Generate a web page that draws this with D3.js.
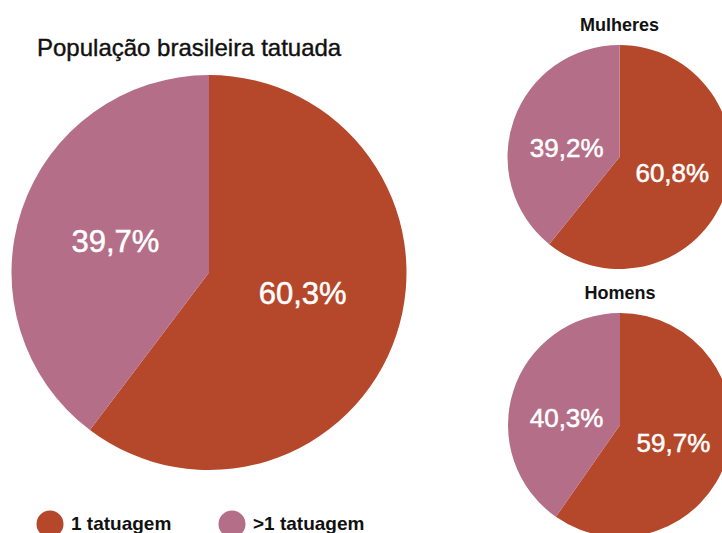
<html>
<script src="https://d3js.org/d3.v7.min.js"></script>
<style>
    body { margin: 0; background: #fff; }
    svg { display: block; font-family: "Liberation Sans", Arial, sans-serif; }
</style>
<svg width=722 height=533></svg>
<script>

    // data
    let categories = ['1 tatuagem', '>1 tatuagem'];
    let total = [60.3, 39.7];
    let mulheres = [60.8, 39.2];
    let homens = [59.7, 40.3];

    let svg = d3.select('svg');

    let color = d3.scaleOrdinal()
        .domain(categories)
        .range(['#b5482b', '#b46e87']);

    let fmt = d3.formatLocale({ decimal: ',', thousands: '.', grouping: [3], currency: ['R$', ''] }).format('.1f');

    let pie = d3.pie().sort(null).value(d => d.value);

    // nudge: vertical shift of each slice label from the centroid
    function drawPie(values, cx, cy, r, fontSize, title, nudge) {
        let g = svg.append('g')
            .attr('transform', 'translate(' + cx + ',' + cy + ')');

        let arc = d3.arc().innerRadius(0).outerRadius(r);
        let data = pie(categories.map((c, i) => ({ cat: c, value: values[i] })));

        g.selectAll('path')
            .data(data)
          .enter()
            .append('path')
            .attr('d', arc)
            .attr('fill', d => color(d.data.cat));

        g.selectAll('.lbl')
            .data(data)
          .enter()
            .append('text')
            .classed('lbl', true)
            .attr('x', d => arc.centroid(d)[0])
            .attr('y', (d, i) => arc.centroid(d)[1] + fontSize * 0.36 + nudge[i])
            .attr('text-anchor', 'middle')
            .attr('font-size', fontSize)
            .attr('fill', '#fff')
            .attr('stroke', '#fff')
            .attr('stroke-width', 0.5)
            .text(d => fmt(d.data.value) + '%');

        if (title) {
            g.append('text')
                .attr('y', -r - 14)
                .attr('text-anchor', 'middle')
                .attr('font-size', 18)
                .attr('font-weight', 'bold')
                .attr('fill', '#111')
                .text(title);
        }
    }

    svg.append('text')
        .attr('x', 37)
        .attr('y', 56)
        .attr('font-size', 24)
        .attr('fill', '#111')
        .attr('stroke', '#111')
        .attr('stroke-width', 0.4)
        .text('População brasileira tatuada');

    drawPie(total, 209, 272.5, 197.5, 31, null, [-11, 0]);
    drawPie(mulheres, 619.5, 157, 112, 26, 'Mulheres', [-3, 9]);
    drawPie(homens, 620, 425, 112, 26, 'Homens', [1, 9]);

    // legend
    let legendX = [50, 232];
    let legend = svg.selectAll('.legend')
        .data(categories)
      .enter()
        .append('g')
        .classed('legend', true)
        .attr('transform', (d, i) => 'translate(' + legendX[i] + ',524)');

    legend.append('circle')
        .attr('r', 13.5)
        .attr('fill', d => color(d));

    legend.append('text')
        .attr('x', 21)
        .attr('y', 6)
        .attr('font-size', 19)
        .attr('font-weight', 'bold')
        .attr('fill', '#111')
        .text(d => d);

</script>
</html>
